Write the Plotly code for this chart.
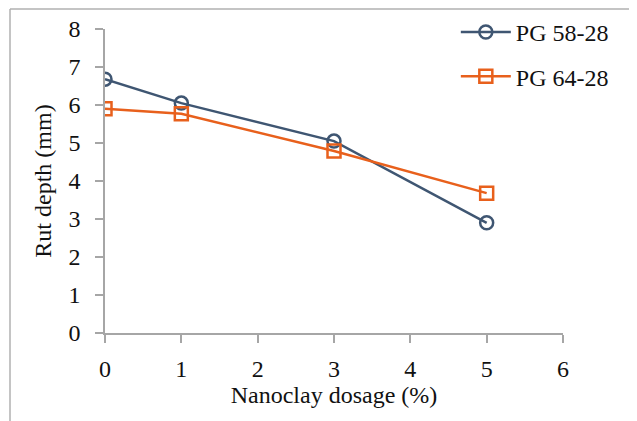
import plotly.graph_objects as go

# Nanoclay dosage (%) vs rut depth (mm)
dosage = [0, 1, 3, 5]
pg58_28 = [6.68, 6.05, 5.05, 2.90]
pg64_28 = [5.90, 5.77, 4.79, 3.68]

x_ticks = [0, 1, 2, 3, 4, 5, 6]
y_ticks = [0, 1, 2, 3, 4, 5, 6, 7, 8]

BLUE = "#3F5672"
ORANGE = "#E8601C"
AXIS = "#A6A6A6"
FONT = "Liberation Serif, serif"
FS = 24

fig = go.Figure()
fig.add_trace(go.Scatter(
    x=dosage, y=pg58_28, name="PG 58-28", mode="lines+markers",
    line=dict(color=BLUE, width=2.5),
    marker=dict(symbol="circle-open", size=13, color=BLUE, line=dict(width=2.5)),
    legendgroup="a",
))
fig.add_trace(go.Scatter(
    x=dosage, y=pg64_28, name="PG 64-28", mode="lines+markers",
    line=dict(color=ORANGE, width=2.5),
    marker=dict(symbol="square-open", size=13, color=ORANGE, line=dict(width=2.5)),
    legendgroup="b",
))

axis_common = dict(
    showgrid=False, zeroline=False, showline=True, linecolor=AXIS, linewidth=1.5,
    ticks="outside", ticklen=8, tickcolor=AXIS, tickwidth=1.5, automargin=False,
    tickfont=dict(family=FONT, size=FS, color="#111111"),
)

# page has an 8px body margin, so the figure is a little smaller than the window
fig.update_layout(
    width=629, height=413,
    margin=dict(l=97, r=74, t=21, b=88, autoexpand=False),
    paper_bgcolor="white", plot_bgcolor="white",
    font=dict(family=FONT, size=FS, color="#111111"),
    xaxis=dict(range=[0, 6], tickvals=x_ticks, ticklabelstandoff=5,
               title=dict(text="Nanoclay dosage (%)", standoff=1,
                          font=dict(family=FONT, size=FS)),
               **axis_common),
    yaxis=dict(range=[0, 8], tickvals=y_ticks, ticklabelstandoff=10,
               title=dict(text="Rut depth (mm)", standoff=10,
                          font=dict(family=FONT, size=FS)),
               **axis_common),
    legend=dict(x=0.766, y=1.063, xanchor="left", yanchor="top",
                bgcolor="rgba(0,0,0,0)", tracegroupgap=10,
                traceorder="grouped", itemwidth=50,
                font=dict(family=FONT, size=FS, color="#111111")),
    showlegend=True,
    shapes=[
        dict(type="line", xref="paper", yref="paper",
             x0=-95 / 458, x1=1.2, y0=1 + 20 / 304, y1=1 + 20 / 304,
             line=dict(color="#B0B0B0", width=1.5)),
        dict(type="line", xref="paper", yref="paper",
             x0=-95 / 458, x1=-95 / 458, y0=1 + 20 / 304, y1=-0.3,
             line=dict(color="#B0B0B0", width=1.5)),
    ],
)

fig.write_html("out.html")
